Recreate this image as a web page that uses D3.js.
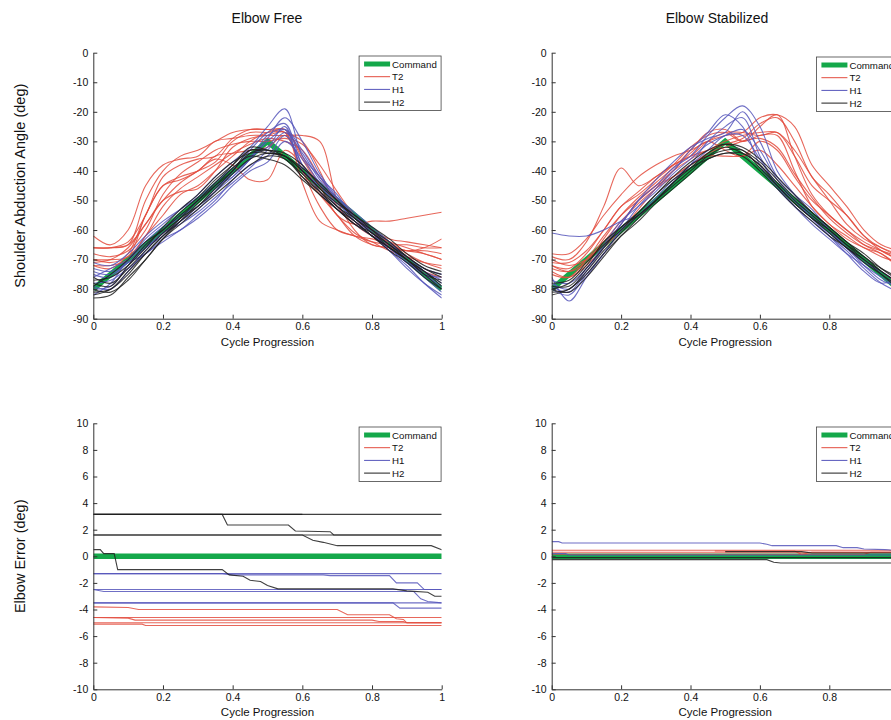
<html>
<head>
<meta charset="utf-8">
<title>Elbow Free / Elbow Stabilized</title>
<script src="https://cdn.jsdelivr.net/npm/d3@7"></script>
<style>
body { margin: 0; background: #fff; }
text { font-family: "Liberation Sans", Arial, sans-serif; fill: #111; }
</style>
</head>
<body>
<div id="chart"></div>
<script>
// sample points along the cycle for the angle traces
var xGrid = [0,0.05,0.1,0.15,0.2,0.25,0.3,0.35,0.4,0.45,0.5,0.55,0.6,0.65,0.7,0.75,0.8,0.85,0.9,0.95,1];

var commandAngle = [[0,-80],[0.5,-30],[1,-80]];
var commandError = [[0,0],[1,0]];

var seriesNames = ['Command','T2','H1','H2'];
var seriesColors = ['#14a84a','#e34c3e','#5656bb','#1e1e1e'];

// Elbow Free: shoulder angle (deg) at xGrid
var freeT2 = [
  [-66,-66,-65,-50,-40,-35,-33,-30,-27,-26,-26,-26,-35,-45,-55,-58,-57,-57,-56,-55,-54],
  [-62,-65,-60,-45,-38,-36,-35,-30,-29,-28,-28,-28,-28,-30,-50,-60,-65,-66,-67,-67,-68],
  [-70,-70,-69,-55,-45,-42,-40,-37,-30,-27,-27,-27,-40,-48,-55,-62,-65,-66,-67,-68,-70],
  [-72,-73,-68,-55,-45,-43,-40,-35,-34,-33,-32,-28,-40,-52,-60,-62,-64,-65,-65,-66,-66],
  [-66,-66,-65,-58,-50,-44,-40,-36,-38,-43,-43,-33,-38,-47,-55,-61,-64,-67,-69,-71,-72],
  [-72,-72,-70,-62,-55,-48,-45,-40,-35,-30,-27,-26,-36,-45,-50,-55,-60,-65,-70,-74,-76],
  [-71,-70,-66,-58,-50,-47,-46,-40,-32,-29,-28,-27,-44,-57,-60,-62,-63,-65,-67,-66,-63],
  [-66,-66,-64,-55,-42,-38,-36,-35,-29,-26,-26,-27,-30,-40,-52,-58,-62,-64,-66,-68,-70],
  [-70,-71,-69,-62,-52,-46,-42,-38,-34,-31,-29,-30,-33,-42,-50,-56,-61,-64,-68,-71,-73],
  [-68,-69,-67,-60,-48,-41,-37,-33,-31,-30,-30,-29,-31,-38,-47,-55,-60,-63,-64,-65,-66]
];
var freeH1 = [
  [-75,-76,-70,-63,-58,-53,-48,-42,-37,-32,-25,-19,-35,-42,-50,-57,-62,-67,-72,-78,-83],
  [-80,-79,-72,-66,-62,-57,-53,-47,-40,-33,-27,-24,-38,-44,-50,-55,-60,-65,-70,-75,-80],
  [-73,-74,-71,-68,-63,-60,-55,-50,-43,-38,-35,-28,-38,-47,-53,-58,-62,-66,-71,-76,-81],
  [-82,-78,-70,-64,-59,-56,-50,-45,-42,-36,-28,-26,-40,-45,-52,-57,-61,-66,-71,-74,-77],
  [-76,-73,-70,-65,-60,-55,-52,-46,-41,-36,-30,-26,-33,-42,-48,-56,-60,-64,-70,-75,-76],
  [-71,-72,-68,-62,-57,-53,-49,-44,-39,-35,-32,-25,-40,-45,-51,-56,-61,-66,-71,-75,-79],
  [-78,-77,-73,-68,-64,-60,-56,-51,-45,-40,-37,-30,-36,-44,-50,-55,-60,-65,-69,-74,-78],
  [-74,-75,-71,-66,-61,-57,-52,-47,-42,-36,-29,-22,-30,-41,-49,-55,-61,-67,-73,-78,-82],
  [-79,-80,-74,-67,-61,-58,-54,-49,-44,-39,-33,-27,-34,-43,-49,-54,-59,-64,-69,-73,-75]
];
var freeH2 = [
  [-78,-79,-72,-65,-60,-55,-50,-45,-40,-34,-33,-35,-40,-46,-52,-56,-61,-65,-70,-74,-78],
  [-81,-80,-75,-68,-62,-57,-52,-46,-40,-33,-34,-35,-42,-48,-53,-57,-62,-66,-70,-75,-80],
  [-76,-78,-73,-67,-61,-56,-52,-47,-41,-36,-34,-35,-40,-46,-51,-55,-60,-65,-69,-73,-76],
  [-83,-82,-76,-70,-63,-58,-53,-48,-43,-38,-35,-36,-42,-47,-52,-57,-62,-66,-70,-74,-79],
  [-79,-75,-70,-64,-60,-54,-49,-43,-38,-33,-33,-34,-38,-45,-50,-56,-60,-64,-69,-73,-75],
  [-80,-81,-77,-70,-63,-57,-51,-45,-39,-35,-36,-38,-43,-48,-53,-58,-61,-66,-70,-75,-77],
  [-77,-76,-72,-66,-59,-53,-48,-42,-37,-34,-34,-35,-39,-44,-50,-55,-59,-63,-68,-72,-74],
  [-82,-80,-74,-68,-62,-56,-50,-44,-38,-32,-33,-36,-41,-47,-53,-58,-62,-67,-71,-76,-80]
];

// Elbow Stabilized: shoulder angle (deg) at xGrid
var stabT2 = [
  [-69,-70,-64,-52,-39,-45,-42,-38,-35,-33,-31,-29,-24,-22,-30,-42,-48,-55,-62,-66,-68],
  [-68,-68,-63,-55,-48,-42,-38,-35,-33,-30,-28,-27,-22,-21,-25,-38,-45,-52,-60,-65,-67],
  [-71,-71,-67,-60,-52,-47,-42,-38,-35,-30,-27,-27,-28,-27,-35,-45,-50,-55,-62,-67,-70],
  [-75,-76,-70,-62,-55,-50,-45,-40,-36,-33,-30,-28,-27,-27,-33,-42,-50,-58,-63,-66,-69],
  [-72,-73,-68,-60,-52,-48,-43,-38,-32,-28,-27,-30,-25,-21,-35,-48,-55,-60,-65,-68,-72],
  [-70,-72,-70,-65,-58,-50,-45,-42,-38,-35,-35,-35,-33,-38,-45,-52,-58,-62,-66,-68,-73],
  [-74,-76,-72,-66,-60,-53,-46,-40,-34,-30,-33,-35,-30,-33,-42,-50,-55,-60,-64,-67,-70],
  [-72,-74,-71,-63,-55,-49,-44,-39,-33,-27,-26,-30,-28,-28,-40,-52,-58,-63,-66,-69,-71],
  [-73,-74,-70,-64,-57,-51,-46,-42,-38,-34,-32,-30,-29,-32,-41,-49,-56,-61,-65,-67,-69]
];
var stabH1 = [
  [-61,-62,-62,-60,-57,-55,-50,-44,-38,-30,-25,-22,-35,-45,-52,-58,-63,-68,-72,-76,-80],
  [-80,-82,-75,-68,-60,-52,-46,-40,-33,-27,-21,-25,-38,-46,-52,-57,-62,-67,-73,-78,-81],
  [-78,-80,-73,-66,-58,-50,-45,-39,-35,-28,-22,-18,-25,-40,-48,-55,-60,-66,-72,-77,-79],
  [-76,-84,-76,-68,-60,-55,-49,-43,-38,-33,-28,-28,-36,-45,-50,-56,-62,-68,-74,-78,-76],
  [-79,-81,-74,-66,-58,-50,-43,-37,-32,-29,-27,-20,-30,-42,-48,-53,-60,-66,-71,-74,-78],
  [-77,-78,-73,-65,-57,-52,-47,-41,-36,-31,-28,-26,-33,-43,-50,-56,-61,-66,-70,-75,-79]
];
var stabH2 = [
  [-79,-79,-73,-66,-59,-55,-50,-45,-40,-35,-32,-34,-38,-44,-50,-55,-60,-65,-70,-74,-78],
  [-80,-78,-72,-64,-59,-54,-48,-42,-37,-33,-31,-33,-37,-43,-49,-54,-59,-64,-69,-73,-76],
  [-81,-80,-74,-67,-61,-55,-50,-44,-38,-35,-33,-33,-39,-45,-51,-56,-61,-66,-70,-75,-80],
  [-78,-77,-71,-65,-60,-54,-48,-43,-39,-36,-34,-35,-40,-46,-52,-57,-62,-66,-71,-75,-79],
  [-82,-80,-75,-68,-62,-57,-51,-46,-41,-36,-34,-34,-38,-45,-51,-56,-60,-65,-69,-74,-78],
  [-80,-81,-76,-69,-62,-56,-50,-44,-39,-34,-31,-32,-36,-42,-48,-54,-59,-64,-68,-73,-77]
];

// elbow error (deg), breakpoints [x, y]
var errFreeT2 = [
  [[0,-3.8],[0.1,-3.85],[0.13,-4.0],[0.7,-4.0],[0.73,-4.4],[0.85,-4.4],[0.87,-4.7],[0.89,-4.75],[0.9,-5.0],[1,-5.0]],
  [[0,-4.6],[1,-4.6]],
  [[0,-4.6],[0.1,-4.65],[0.12,-4.8],[0.8,-4.8],[0.82,-4.9],[0.89,-4.9],[0.9,-5.0],[1,-5.0]],
  [[0,-5.0],[1,-5.0]],
  [[0,-5.1],[0.14,-5.1],[0.15,-5.2],[1,-5.2]]
];
var errFreeH1 = [
  [[0,-1.3],[1,-1.3]],
  [[0,-1.3],[0.37,-1.3],[0.4,-1.4],[0.66,-1.4],[0.68,-1.45],[0.85,-1.45],[0.87,-2.0],[0.93,-2.0],[0.95,-2.5],[1,-2.5]],
  [[0,-2.5],[1,-2.5]],
  [[0,-2.5],[0.03,-2.65],[0.92,-2.65],[0.94,-3.2],[0.96,-3.4],[1,-3.5]],
  [[0,-3.5],[1,-3.5]],
  [[0,-3.5],[0.86,-3.5],[0.88,-3.9],[1,-3.9]]
];
var errFreeH2 = [
  [[0,3.15],[1,3.15]],
  [[0,3.15],[0.6,3.15]],
  [[0,3.15],[0.37,3.15],[0.385,2.35],[0.56,2.35],[0.58,1.9],[0.68,1.85],[0.69,1.6],[1,1.6]],
  [[0,1.6],[1,1.6]],
  [[0,1.6],[0.6,1.6],[0.63,1.2],[0.66,1.05],[0.7,0.8],[0.97,0.8],[1,0.5]],
  [[0,0.5],[0.02,0.5],[0.03,0.2],[0.06,0.2],[0.07,-1.0],[0.37,-1.0],[0.39,-1.4],[0.43,-1.5],[0.45,-1.8],[0.48,-1.9],[0.5,-2.2],[0.53,-2.45],[0.86,-2.45],[0.9,-2.6],[0.96,-2.7],[0.98,-3.0],[1,-3.0]]
];
var errStabT2 = [
  [[0,0.45],[0.97,0.45],[1,0.4]],
  [[0,0.3],[1,0.3]],
  [[0.47,0.4],[0.7,0.4],[0.72,0.15],[0.75,0.3],[1,0.3]],
  [[0,0.15],[0.9,0.15],[0.92,0.3],[1,0.3]]
];
var errStabH1 = [
  [[0,1.1],[0.02,1.1],[0.03,1.0],[0.6,1.0],[0.62,0.9],[0.635,0.8],[0.82,0.8],[0.84,0.65],[0.88,0.65],[0.9,0.55],[0.96,0.5],[1,0.45]],
  [[0,0.2],[0.04,0.2],[0.05,0.1],[1,0.1]]
];
var errStabH2 = [
  [[0,-0.25],[0.62,-0.25],[0.64,-0.45],[0.66,-0.5],[1,-0.5]],
  [[0,-0.1],[1,-0.1]],
  [[0.5,0.35],[0.72,0.35],[0.75,0.25],[1,0.25]]
];

var xTicks = [0,0.2,0.4,0.6,0.8,1];
var angleTicks = [0,-10,-20,-30,-40,-50,-60,-70,-80,-90];
var errorTicks = [10,8,6,4,2,0,-2,-4,-6,-8,-10];

var W = 891, H = 720;
var svg = d3.select('#chart').append('svg')
  .attr('width', W).attr('height', H);

function toPts(arr){
  return arr.map(function(v,i){ return [xGrid[i], v]; });
}

var panels = [
  {left:93.3, right:441.7, top:52.7, bottom:318.7, dom:[-90,0], ticks:angleTicks, smooth:true,
   cmd:commandAngle, traces:[freeT2.map(toPts), freeH1.map(toPts), freeH2.map(toPts)], legTop:56},
  {left:551.7, right:898.7, top:52.7, bottom:318.7, dom:[-90,0], ticks:angleTicks, smooth:true,
   cmd:commandAngle, traces:[stabT2.map(toPts), stabH1.map(toPts), stabH2.map(toPts)], legTop:57},
  {left:93.3, right:441.7, top:423.3, bottom:689.3, dom:[-10,10], ticks:errorTicks, smooth:false,
   cmd:commandError, traces:[errFreeT2, errFreeH1, errFreeH2], legTop:427},
  {left:551.7, right:898.7, top:423.3, bottom:689.3, dom:[-10,10], ticks:errorTicks, smooth:false,
   cmd:commandError, traces:[errStabT2, errStabH1, errStabH2], legTop:427}
];

panels.forEach(function(p, pi){
  var x = d3.scaleLinear().domain([0,1]).range([p.left, p.right]);
  var y = d3.scaleLinear().domain(p.dom).range([p.bottom, p.top]);
  var g = svg.append('g');

  g.append('clipPath').attr('id','clip'+pi).append('rect')
    .attr('x', p.left).attr('y', p.top - 2)
    .attr('width', p.right - p.left).attr('height', p.bottom - p.top + 4);

  var line = d3.line().x(function(d){ return x(d[0]); }).y(function(d){ return y(d[1]); });
  var traceLine = d3.line().x(function(d){ return x(d[0]); }).y(function(d){ return y(d[1]); })
    .curve(p.smooth ? d3.curveCatmullRom.alpha(0.5) : d3.curveLinear);
  var plot = g.append('g').attr('clip-path','url(#clip'+pi+')');

  plot.append('path').datum(p.cmd)
    .attr('d', line).attr('fill','none')
    .attr('stroke', seriesColors[0]).attr('stroke-width', 5.5);

  p.traces.forEach(function(set, si){
    plot.selectAll(null).data(set).enter().append('path')
      .attr('d', traceLine).attr('fill','none')
      .attr('stroke', seriesColors[si+1])
      .attr('stroke-width', 1.1)
      .attr('stroke-opacity', 0.85);
  });

  var ax = g.append('g').attr('transform','translate(0,'+p.bottom+')')
    .call(d3.axisBottom(x).tickValues(xTicks).tickFormat(String)
      .tickSizeInner(-4).tickSizeOuter(0).tickPadding(4));
  var ay = g.append('g').attr('transform','translate('+p.left+',0)')
    .call(d3.axisLeft(y).tickValues(p.ticks).tickFormat(String)
      .tickSizeInner(-4).tickSizeOuter(0).tickPadding(5));
  [ax, ay].forEach(function(a){
    a.select('.domain').attr('stroke','#333');
    a.selectAll('.tick line').attr('stroke','#333');
    a.selectAll('.tick text').attr('font-size', 10.5)
      .attr('font-family','"Liberation Sans", Arial, sans-serif').attr('fill','#111');
  });

  g.append('text')
    .attr('x', x(0.5)).attr('y', p.bottom + 27)
    .attr('text-anchor','middle').attr('font-size', 11.5)
    .text('Cycle Progression');

  // legend
  var lx = x(0.76) + 1, lw = 82, lh = 54.5;
  var leg = g.append('g');
  leg.append('rect').attr('x', lx).attr('y', p.legTop)
    .attr('width', lw).attr('height', lh)
    .attr('fill','#fff').attr('stroke','#444').attr('stroke-width', 0.8);
  seriesNames.forEach(function(name, i){
    var ly = p.legTop + 8 + i * 12.7;
    leg.append('line').attr('x1', lx + 5).attr('x2', lx + 31)
      .attr('y1', ly).attr('y2', ly)
      .attr('stroke', seriesColors[i]).attr('stroke-width', i === 0 ? 5 : 1);
    leg.append('text').attr('x', lx + 33).attr('y', ly + 3.5)
      .attr('font-size', 9.7).text(name);
  });
});

svg.append('text').attr('x', 267).attr('y', 23)
  .attr('text-anchor','middle').attr('font-size', 14).text('Elbow Free');
svg.append('text').attr('x', 717).attr('y', 23)
  .attr('text-anchor','middle').attr('font-size', 14).text('Elbow Stabilized');

svg.append('text').attr('transform','translate(25,185.7) rotate(-90)')
  .attr('text-anchor','middle').attr('font-size', 14.5)
  .text('Shoulder Abduction Angle (deg)');
svg.append('text').attr('transform','translate(25,556.3) rotate(-90)')
  .attr('text-anchor','middle').attr('font-size', 14.5)
  .text('Elbow Error (deg)');
</script>
</body>
</html>
